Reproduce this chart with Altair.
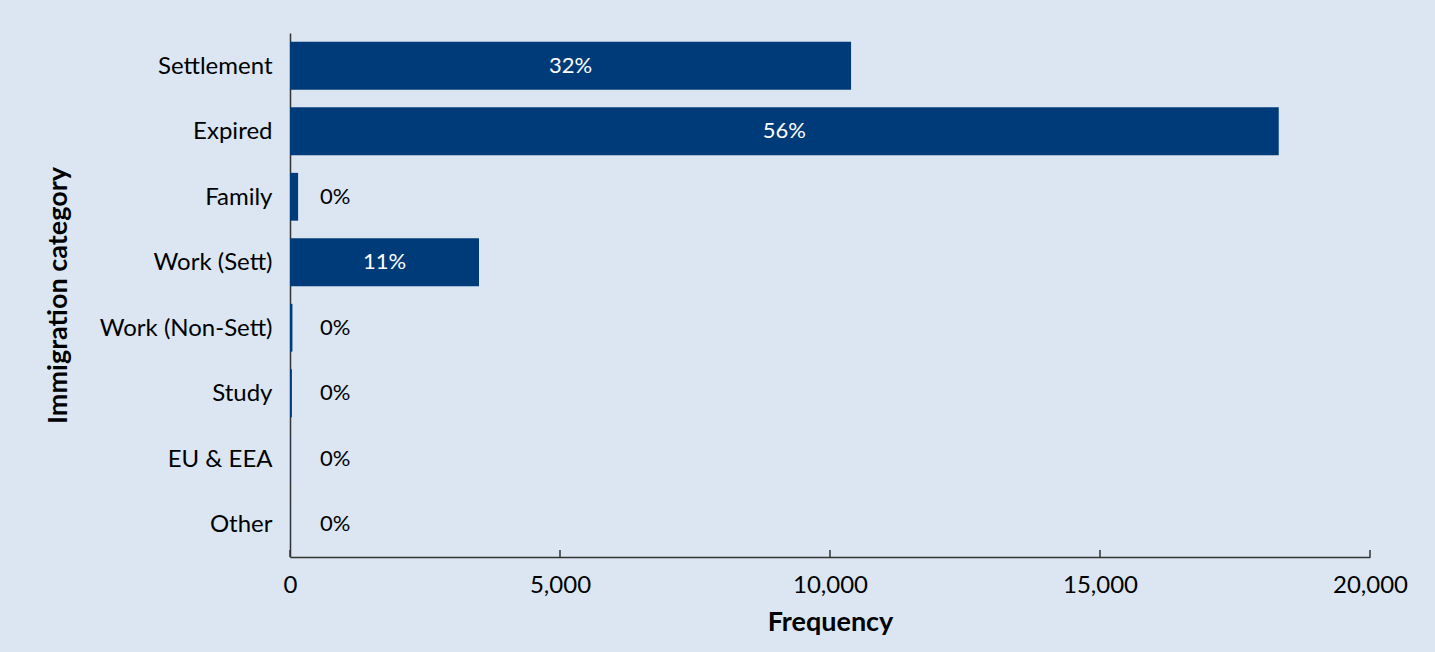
import altair as alt
import pandas as pd

categories = ["Settlement", "Expired", "Family", "Work (Sett)",
              "Work (Non-Sett)", "Study", "EU & EEA", "Other"]
frequency = [10390, 18310, 150, 3500, 45, 35, 5, 3]
x_ticks = [0, 5000, 10000, 15000, 20000]

df = pd.DataFrame({"category": categories, "freq": frequency})
ticks_df = pd.DataFrame({"t": x_ticks})

BG = "#dbe6f2"
BAR = "#003b79"
FONT = "Lato"

y_enc = alt.Y("category:N", sort=categories,
              scale=alt.Scale(paddingInner=0.27, paddingOuter=0.135),
              axis=alt.Axis(title="Immigration category", ticks=False, labelPadding=18,
                            labelLimit=300, titlePadding=27, labelOffset=1))
x_scale = alt.Scale(domain=[0, 20000], nice=False)

base = alt.Chart(df).transform_joinaggregate(total="sum(freq)").transform_calculate(
    pct="datum.freq / datum.total", half="datum.freq / 2", zero="0")

bars = base.mark_bar(color=BAR).encode(
    x=alt.X("freq:Q", scale=x_scale,
            axis=alt.Axis(title="Frequency", values=x_ticks, format=",.0f", ticks=False,
                          labelPadding=16, titlePadding=12, grid=False,
                          labelFlush=False)),
    y=y_enc,
)

inside = base.transform_filter("datum.freq > 2000").mark_text(
    color="white", font=FONT, fontSize=22, align="center", baseline="middle"
).encode(
    x=alt.X("half:Q", scale=x_scale),
    y=alt.Y("category:N", sort=categories),
    text=alt.Text("pct:Q", format=".0%"),
)

outside = base.transform_filter("datum.freq <= 2000").mark_text(
    color="black", font=FONT, fontSize=22, align="left", baseline="middle", dx=30
).encode(
    x=alt.X("zero:Q", scale=x_scale),
    y=alt.Y("category:N", sort=categories),
    text=alt.Text("pct:Q", format=".0%"),
)

tick_marks = alt.Chart(ticks_df).mark_rule(color="#333333", strokeWidth=1.5).encode(
    x=alt.X("t:Q", scale=x_scale),
    y=alt.value(524),
    y2=alt.value(517),
)

chart = alt.layer(bars, tick_marks, inside, outside).properties(
    width=1080, height=524,
    background=BG,
    padding={"left": 290, "top": 33, "right": 65, "bottom": 95},
    autosize=alt.AutoSizeParams(type="none"),
).configure_view(stroke=None).configure_axis(
    labelFont=FONT, titleFont=FONT, labelFontSize=24, titleFontSize=27,
    labelColor="black", titleColor="black", titleFontWeight="bold",
    domainColor="#333333", domainWidth=1.5,
)

chart.save("out.html", embed_options={"renderer": "svg", "actions": False})
